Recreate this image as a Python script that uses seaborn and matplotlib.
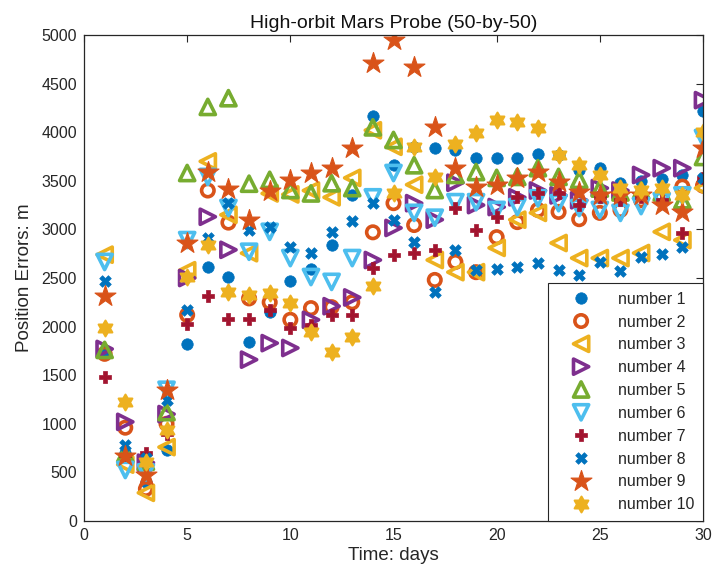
import numpy as np
import pandas as pd
import matplotlib
matplotlib.use("Agg")
import matplotlib.pyplot as plt
from matplotlib.path import Path
import seaborn as sns

sns.set_theme(style="white")
plt.rcParams['font.family'] = ['Liberation Sans', 'DejaVu Sans']

days = list(range(1, 31))

number_1 = [1750, 700, 400, 730, 1820, 2615, 2510, 1840, 2150, 2470, 2590, 2840, 3354, 4167, 3663,
            3850, 3837, 3817, 3735, 3730, 3730, 3775, 3770, 3611, 3630, 3477, 3500, 3518, 3560, 4218]
number_2 = [1720, 960, 330, 1000, 2120, 3400, 3070, 2290, 2250, 2070, 2190, 2200, 2250, 2970, 3270,
            3045, 2480, 2665, 2560, 2920, 3075, 3200, 3180, 3105, 3170, 3200, 3300, 3350, 3440, 3450]
number_3 = [2740, 580, 290, 760, 2580, 3700, 3150, 2755, 3370, 3360, 3400, 3330, 3530, 4020, 3850,
            3460, 2685, 2560, 2560, 2810, 3100, 3170, 2860, 2705, 2705, 2705, 2757, 2975, 2890, 3425]
number_4 = [1770, 1020, 600, 1100, 2500, 3130, 2790, 1660, 1830, 1780, 2070, 2210, 2300, 2685, 3015,
            3270, 3100, 3480, 3250, 3230, 3330, 3400, 3350, 3300, 3425, 3400, 3560, 3630, 3630, 4330]
number_5 = [1760, 690, 610, 1120, 3580, 4260, 4350, 3470, 3510, 3405, 3370, 3475, 3425, 4050, 3920,
            3660, 3405, 3560, 3590, 3530, 3540, 3630, 3540, 3510, 3420, 3380, 3400, 3380, 3300, 3745]
number_6 = [2665, 525, 500, 1350, 2890, 3540, 3220, 2770, 2975, 2705, 2510, 2460, 2705, 3330, 3580,
            3170, 3120, 3280, 3280, 3200, 3230, 3320, 3270, 3220, 3200, 3170, 3240, 3290, 3350, 3940]
number_7 = [1480, 680, 700, 900, 2030, 2310, 2080, 2080, 2170, 1985, 2020, 2120, 2120, 2600, 2740,
            2755, 2790, 3220, 2995, 3130, 3330, 3370, 3370, 3250, 3330, 3300, 3330, 3300, 2960, 3530]
number_8 = [2470, 780, 650, 1250, 2170, 2910, 3270, 2995, 3025, 2820, 2760, 2975, 3090, 3270, 3100,
            2870, 2355, 2790, 2580, 2590, 2615, 2650, 2580, 2530, 2665, 2570, 2715, 2745, 2820, 3530]
number_9 = [2315, 670, 475, 1350, 2860, 3590, 3415, 3100, 3400, 3510, 3580, 3630, 3840, 4710, 4950,
            4670, 4050, 3630, 3440, 3460, 3530, 3590, 3490, 3385, 3350, 3350, 3350, 3250, 3180, 3840]
number_10 = [1985, 1225, 610, 935, 2510, 2840, 2355, 2325, 2345, 2240, 1945, 1740, 1895, 2420, 3370,
             3850, 3540, 3880, 3990, 4125, 4105, 4040, 3765, 3660, 3560, 3425, 3405, 3425, 3350, 4000]

series_names = ["number 1", "number 2", "number 3", "number 4", "number 5",
                "number 6", "number 7", "number 8", "number 9", "number 10"]
series_values = [number_1, number_2, number_3, number_4, number_5,
                 number_6, number_7, number_8, number_9, number_10]

x_ticks = [0, 5, 10, 15, 20, 25, 30]
y_ticks = [0, 500, 1000, 1500, 2000, 2500, 3000, 3500, 4000, 4500, 5000]

# hexagram marker shape
ang_o = np.deg2rad(90 + np.arange(6) * 60)
ang_i = ang_o + np.deg2rad(30)
r_i = 1 / np.sqrt(3)
verts = []
for a, b in zip(ang_o, ang_i):
    verts.append((np.cos(a), np.sin(a)))
    verts.append((r_i * np.cos(b), r_i * np.sin(b)))
verts.append(verts[0])
hexagram = Path(verts, [Path.MOVETO] + [Path.LINETO] * 11 + [Path.CLOSEPOLY])

C = ['#0072BD', '#D95319', '#EDB120', '#7E2F8E', '#77AC30', '#4DBEEE', '#A2142F',
     '#0072BD', '#D95319', '#EDB120']
styles = [
    dict(marker='o', s=68, fc=C[0], ec=C[0], lw=0.5),
    dict(marker='o', s=80, fc='none', ec=C[1], lw=2.6),
    dict(marker='<', s=120, fc='none', ec=C[2], lw=2.6),
    dict(marker='>', s=120, fc='none', ec=C[3], lw=2.6),
    dict(marker='^', s=120, fc='none', ec=C[4], lw=2.6),
    dict(marker='v', s=120, fc='none', ec=C[5], lw=2.6),
    dict(marker='P', s=80, fc=C[6], ec=C[6], lw=0.5),
    dict(marker='X', s=70, fc=C[7], ec=C[7], lw=0.5),
    dict(marker='*', s=250, fc=C[8], ec=C[8], lw=0.8),
    dict(marker=hexagram, s=130, fc=C[9], ec=C[9], lw=1.5),
]

fig = plt.figure(figsize=(7.12, 5.8), dpi=100)
ax = fig.add_axes([84 / 712, 59 / 580, 619 / 712, 486 / 580])

for name, vals, st in zip(series_names, series_values, styles):
    df = pd.DataFrame({"day": days, "err": vals})
    sns.scatterplot(data=df, x="day", y="err", ax=ax, label=name,
                    marker=st['marker'], s=st['s'], facecolors=st['fc'],
                    edgecolors=st['ec'], linewidths=st['lw'], clip_on=True)

ax.set_xlim(0, 30)
ax.set_ylim(0, 5000)
ax.set_xticks(x_ticks)
ax.set_yticks(y_ticks)
ax.set_xticklabels([str(t) for t in x_ticks])
ax.set_yticklabels([str(t) for t in y_ticks])
ax.tick_params(direction='in', top=True, right=True, length=5, width=0.8,
               labelsize=11.5, colors='#262626', pad=5)
for sp in ax.spines.values():
    sp.set_visible(True)
    sp.set_color('#262626')
    sp.set_linewidth(0.9)

ax.set_title("High-orbit Mars Probe (50-by-50)", fontsize=14, color='#111111', pad=5)
ax.set_xlabel("Time: days", fontsize=13.5, color='#262626', labelpad=3)
ax.set_ylabel("Position Errors: m", fontsize=13.5, color='#262626', labelpad=6)

leg = ax.legend(loc='lower right', borderaxespad=0, fancybox=False, framealpha=1,
                edgecolor='#262626', fontsize=11.5, handlelength=3.0, handletextpad=0.8,
                borderpad=0.55, labelspacing=0.49, scatteryoffsets=[0.5])
leg.get_frame().set_linewidth(0.8)

fig.savefig("out.png", dpi=100)
